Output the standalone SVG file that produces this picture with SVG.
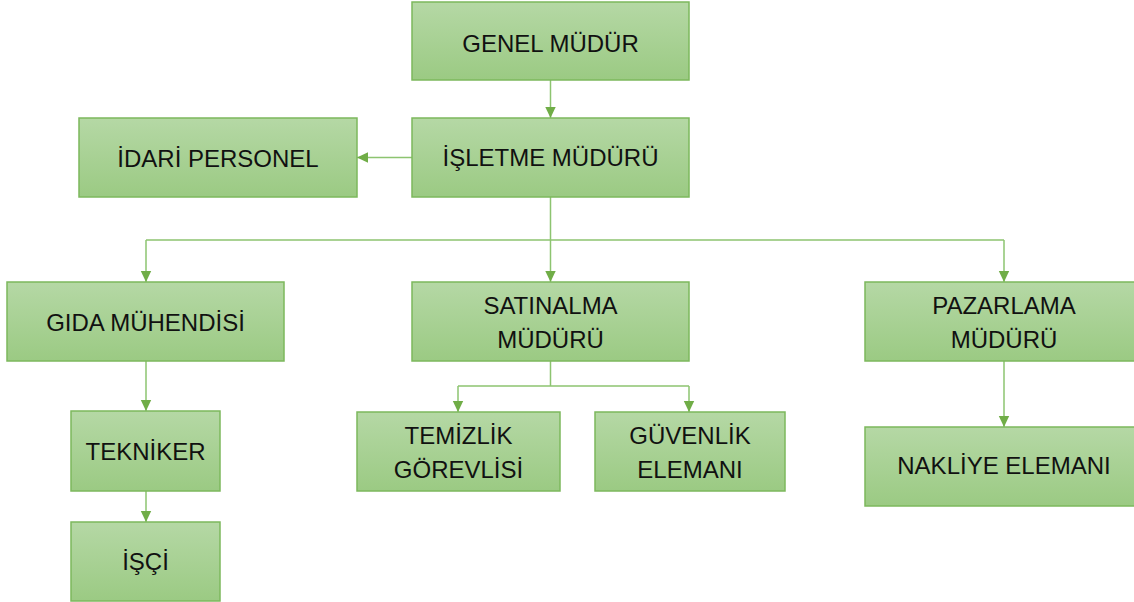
<svg xmlns="http://www.w3.org/2000/svg" width="1134" height="602" viewBox="0 0 1134 602">
<defs>
<linearGradient id="g" x1="0" y1="0" x2="0" y2="1">
<stop offset="0" stop-color="#b5d8a5"/>
<stop offset="1" stop-color="#9bca83"/>
</linearGradient>
<marker id="arr" markerUnits="userSpaceOnUse" markerWidth="12" markerHeight="12" viewBox="0 0 12 12" refX="11" refY="6" orient="auto">
<path d="M0,0.8 L11,6 L0,11.2 Z" fill="#70ad47"/>
</marker>
<style>
.box{fill:url(#g);stroke:#7cb85c;stroke-width:1.5}
.t{font-family:"Liberation Sans",Arial,sans-serif;font-size:24px;fill:#111;text-anchor:middle}
.c{fill:none;stroke:#8dc470;stroke-width:1.5}
.a{marker-end:url(#arr)}
</style>
</defs>
<rect width="1134" height="602" fill="#fff"/>
<g id="connectors">
<path class="c a" d="M550.5,80 V118"/>
<path class="c a" d="M412,157.5 H357"/>
<path class="c" d="M550.5,197 V240 M146,240 H1004"/>
<path class="c a" d="M146,240 V282"/>
<path class="c a" d="M550.5,240 V282"/>
<path class="c a" d="M1004,240 V282"/>
<path class="c a" d="M146,361 V411"/>
<path class="c a" d="M146,491 V522"/>
<path class="c" d="M550.5,361 V386 M458,386 H689"/>
<path class="c a" d="M458,386 V412"/>
<path class="c a" d="M689,386 V412"/>
<path class="c a" d="M1004,361 V427"/>
</g>
<g id="genel-mudur"><rect class="box" x="412" y="2" width="277" height="78"/><text class="t" x="550.5" y="51.5">GENEL MÜDÜR</text></g>
<g id="isletme-muduru"><rect class="box" x="412" y="118" width="277" height="79"/><text class="t" x="550.5" y="166">İŞLETME MÜDÜRÜ</text></g>
<g id="idari-personel"><rect class="box" x="79" y="118" width="278" height="79"/><text class="t" x="218" y="166.5">İDARİ PERSONEL</text></g>
<g id="gida-muhendisi"><rect class="box" x="7" y="282" width="277" height="79"/><text class="t" x="145.5" y="331">GIDA MÜHENDİSİ</text></g>
<g id="satinalma-muduru"><rect class="box" x="412" y="282" width="277" height="79"/><text class="t" x="550.5" y="314">SATINALMA</text><text class="t" x="550.5" y="348">MÜDÜRÜ</text></g>
<g id="pazarlama-muduru"><rect class="box" x="865" y="282" width="278" height="79"/><text class="t" x="1004" y="314">PAZARLAMA</text><text class="t" x="1004" y="348">MÜDÜRÜ</text></g>
<g id="tekniker"><rect class="box" x="71" y="411" width="149" height="80"/><text class="t" x="145.5" y="460">TEKNİKER</text></g>
<g id="isci"><rect class="box" x="71" y="522" width="149" height="79"/><text class="t" x="145.5" y="570">İŞÇİ</text></g>
<g id="temizlik-gorevlisi"><rect class="box" x="357" y="412" width="203" height="79"/><text class="t" x="458.5" y="444">TEMİZLİK</text><text class="t" x="458.5" y="478">GÖREVLİSİ</text></g>
<g id="guvenlik-elemani"><rect class="box" x="595" y="412" width="190" height="79"/><text class="t" x="690" y="444">GÜVENLİK</text><text class="t" x="690" y="478">ELEMANI</text></g>
<g id="nakliye-elemani"><rect class="box" x="865" y="427" width="278" height="79"/><text class="t" x="1004" y="474">NAKLİYE ELEMANI</text></g>
</svg>
